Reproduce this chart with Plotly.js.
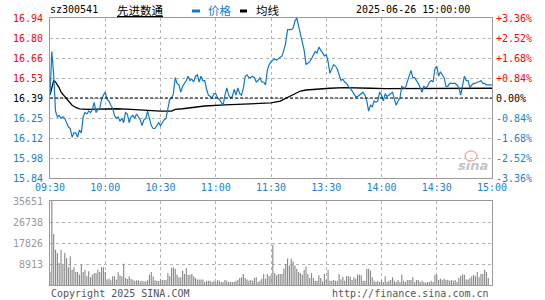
<!DOCTYPE html>
<html><head><meta charset="utf-8">
<script src="https://cdn.plot.ly/plotly-3.0.1.min.js"></script>
<style>html,body{margin:0;padding:0;background:#fff}#c{width:545px;height:300px}</style>
</head><body><div id="c"></div>
<script>
// ---------- data ----------
const stockCode = "sz300541";
const stockName = "先进数通";
const stamp = "2025-06-26 15:00:00";
const prevClose = 16.39;
const maxPct = 3.36;
const timeLabels = ["09:30","10:00","10:30","11:00","11:30","13:30","14:00","14:30","15:00"];
const priceTickLabels = ["15.84","15.98","16.12","16.25","16.39","16.53","16.66","16.80","16.94"];
const pctTickLabels = ["-3.36%","-2.52%","-1.68%","-0.84%","0.00%","+0.84%","+1.68%","+2.52%","+3.36%"];
const volTickVals = [8913,17826,26738,35651];
const volTickLabels = ["8913","17826","26738","35651"];

const prices = [
16.41,16.71,16.55,16.30,16.26,16.27,16.25,16.26,16.25,16.22,
16.19,16.18,16.12,16.15,16.15,16.12,16.17,16.15,16.26,16.29,
16.28,16.30,16.29,16.31,16.36,16.29,16.31,16.32,16.38,16.41,
16.43,16.38,16.37,16.34,16.32,16.27,16.25,16.26,16.23,16.25,
16.22,16.29,16.28,16.22,16.26,16.27,16.25,16.28,16.26,16.24,
16.20,16.24,16.25,16.30,16.25,16.20,16.18,16.18,16.20,16.22,
16.20,16.22,16.24,16.25,16.33,16.38,16.39,16.42,16.53,16.49,
16.48,16.43,16.47,16.49,16.51,16.54,16.51,16.52,16.50,16.54,
16.55,16.50,16.54,16.51,16.51,16.45,16.41,16.40,16.39,16.42,
16.42,16.39,16.38,16.36,16.34,16.41,16.46,16.41,16.39,16.40,
16.45,16.41,16.46,16.42,16.41,16.46,16.54,16.55,16.53,16.53,
16.54,16.53,16.50,16.51,16.53,16.50,16.50,16.48,16.58,16.62,
16.64,16.65,16.66,16.65,16.66,16.67,16.68,16.72,16.77,16.86,
16.86,16.86,16.87,16.92,16.94,16.89,16.82,16.77,16.72,16.62,
16.63,16.64,16.66,16.69,16.71,16.70,16.74,16.72,16.70,16.68,
16.69,16.64,16.56,16.59,16.62,16.61,16.59,16.55,16.51,16.52,
16.50,16.49,16.47,16.46,16.44,16.42,16.40,16.40,16.41,16.42,
16.43,16.41,16.37,16.30,16.34,16.33,16.37,16.36,16.37,16.43,
16.41,16.37,16.42,16.40,16.41,16.42,16.43,16.38,16.34,16.37,
16.39,16.47,16.46,16.46,16.50,16.55,16.58,16.53,16.53,16.51,
16.49,16.46,16.43,16.47,16.46,16.47,16.50,16.51,16.50,16.59,
16.61,16.54,16.57,16.55,16.53,16.47,16.47,16.49,16.49,16.49,
16.49,16.48,16.46,16.41,16.47,16.54,16.51,16.51,16.46,16.48,
16.49,16.49,16.50,16.50,16.51,16.49,16.49,16.48,16.48,16.48,
16.48];

const avgMinutes = [0,1,2,3,4,5,6,8,10,12,14,16,20,25,30,36,44,50,60,66,68,72,77,84,95,106,117,120,125,130,133,136,139,145,152,160,167,174,182,200,220,240];
const avgValues = [16.41,16.47,16.51,16.50,16.48,16.46,16.43,16.40,16.37,16.34,16.325,16.315,16.312,16.313,16.315,16.316,16.312,16.307,16.300,16.300,16.312,16.316,16.326,16.335,16.342,16.349,16.353,16.356,16.369,16.399,16.422,16.438,16.445,16.452,16.457,16.461,16.461,16.457,16.454,16.455,16.456,16.457];

const volumes = [
5500,35651,21650,15000,13600,9300,15000,8600,13600,11500,7500,12200,6500,7500,5500,5500,4400,8600,5500,6500,3700,5800,3300,4400,5100,5100,6500,5500,7500,7500,5500,
2300,2800,2000,3700,3700,2300,5400,4100,3700,9000,3000,2500,3700,2600,2200,1800,2000,2000,1600,1800,1500,1600,2000,4400,5500,3600,2000,1800,1700,2500,
2100,2100,2100,5100,3700,7200,7500,6900,4400,3300,3300,6100,4700,7200,4400,4400,4700,3700,3000,2300,2300,2300,2300,1300,1800,1800,1800,1300,1800,1300,
2100,1800,1300,1300,2100,1800,1300,1300,1300,1300,1800,2100,3000,3300,4700,3000,2300,1800,2100,1800,3000,3300,1300,1800,2700,4700,2700,4700,3700,4000,
17100,5100,4100,4700,4700,4700,6900,8900,11200,8300,11200,10000,8300,6900,5500,5100,4400,6400,7900,4700,3000,5100,3000,1800,1800,4100,3000,1600,4700,2300,
6500,1800,1800,2100,1800,1800,4700,2300,3500,1800,3800,3700,3500,2100,3300,2700,4400,4400,4100,1800,1800,6900,6900,6100,3300,1800,1300,1800,1300,2100,
1300,3700,1300,1800,2100,3300,1800,1300,2100,1300,4400,1800,1300,2100,2100,2100,3300,1300,2100,2100,1300,1800,1300,1000,1300,1300,1800,1300,4400,4400,
2100,2700,2100,2700,2100,2100,1800,2100,1800,2100,1300,3000,3800,4400,4400,2300,2300,3000,3700,4400,3700,5500,3300,4800,4700,6500,5500,3000,0,0];

// ---------- build ----------
const minutes = prices.map((_, i) => i);
const timeTickVals = timeLabels.map((_, k) => k * 30);
const RED = '#ff0000', BLUE = '#1a7fd0', LINEBLUE = '#1078c8', GRID = '#b4b4b4', BORDER = '#999999';
const step = prevClose * maxPct / 400;
const priceTickVals = priceTickLabels.map((_, k) => prevClose + (k - 4) * step);
const pctTickVals = pctTickLabels.map((_, k) => (k - 4) * maxPct / 4);
const colorFor = k => k > 4 ? RED : (k === 4 ? '#000000' : BLUE);
const priceTickText = priceTickLabels.map((t, k) => `<span style="color:${colorFor(k)}">${t}</span>`);
const pctTickText = pctTickLabels.map((t, k) => `<span style="color:${colorFor(k)}">${t}</span>`);

// pixel helpers for decorations (plot area 50..492 x, 18..285 y)
const PL = 50, PR = 492, PT = 18, PB = 285;
const px = x => (x - PL) / (PR - PL);
const py = y => (PB - y) / (PB - PT);
const priceTop = 18, priceBot = 178, volTop = 201;

const mono = 'DejaVu Sans Mono, Liberation Mono, monospace';
const cjk = 'Noto Sans CJK SC, sans-serif';

const traces = [
  {x: minutes, y: volumes, type: 'bar', xaxis: 'x2', yaxis: 'y3', width: 0.62,
   marker: {color: '#8a8a8a', line: {width: 0}}, hoverinfo: 'skip'},
  {x: avgMinutes, y: avgValues, type: 'scatter', mode: 'lines', xaxis: 'x', yaxis: 'y',
   line: {color: '#000000', width: 1.3}, hoverinfo: 'skip'},
  {x: minutes, y: prices, type: 'scatter', mode: 'lines', xaxis: 'x', yaxis: 'y',
   line: {color: LINEBLUE, width: 1.2}, hoverinfo: 'skip'},
  {x: [0, 240], y: [-maxPct, maxPct], type: 'scatter', mode: 'markers', xaxis: 'x', yaxis: 'y2',
   marker: {opacity: 0}, hoverinfo: 'skip'}
];

const axBase = {showline: true, mirror: true, linecolor: BORDER, linewidth: 1, zeroline: false,
  showgrid: true, gridcolor: GRID, griddash: 'dot', gridwidth: 1, ticks: '', fixedrange: true};

const layout = {
  width: 545, height: 300,
  margin: {l: PL, r: 545 - PR, t: PT, b: 300 - PB, pad: 0},
  paper_bgcolor: '#ffffff', plot_bgcolor: '#ffffff', showlegend: false,
  font: {family: mono, size: 10, color: '#000'},
  xaxis: Object.assign({}, axBase, {domain: [0, 1], anchor: 'y', range: [0, 240],
    tickvals: timeTickVals, ticktext: timeLabels, tickfont: {family: mono, size: 10, color: BLUE}}),
  yaxis: Object.assign({}, axBase, {domain: [py(priceBot), 1], anchor: 'x',
    range: [prevClose - 4 * step, prevClose + 4 * step], tickvals: priceTickVals, ticktext: priceTickText,
    tickfont: {family: mono, size: 10}, ticklabelstandoff: 4}),
  yaxis2: {overlaying: 'y', side: 'right', anchor: 'x', range: [-maxPct, maxPct], tickvals: pctTickVals,
    ticktext: pctTickText, showgrid: false, zeroline: false, showline: false, ticks: '',
    tickfont: {family: mono, size: 10}, ticklabelstandoff: 3, fixedrange: true},
  xaxis2: Object.assign({}, axBase, {domain: [0, 1], anchor: 'y3', range: [0, 240],
    tickvals: timeTickVals, showticklabels: false}),
  yaxis3: Object.assign({}, axBase, {domain: [0, py(volTop)], anchor: 'x2', range: [0, 35651],
    tickvals: volTickVals, ticktext: volTickLabels, tickfont: {family: mono, size: 10, color: '#999999'},
    ticklabelstandoff: 4}),
  shapes: [
    {type: 'line', xref: 'x', yref: 'y', x0: 0, x1: 240, y0: prevClose, y1: prevClose,
     line: {color: '#000', width: 1, dash: '3px,2px'}},
    {type: 'line', xref: 'paper', yref: 'paper', x0: px(192), x1: px(200), y0: py(11), y1: py(11),
     line: {color: LINEBLUE, width: 3}},
    {type: 'line', xref: 'paper', yref: 'paper', x0: px(240), x1: px(247), y0: py(11), y1: py(11),
     line: {color: '#000', width: 3}},
    {type: 'circle', xref: 'paper', yref: 'paper', x0: px(465), x1: px(477), y0: py(161), y1: py(151),
     line: {color: '#f2b0b0', width: 1.5}}
  ],
  annotations: [
    {xref: 'paper', yref: 'paper', x: px(48), y: py(10), xanchor: 'left', yanchor: 'middle', showarrow: false,
     text: stockCode, font: {family: mono, size: 10, color: '#000'}},
    {xref: 'paper', yref: 'paper', x: px(115), y: py(10), xanchor: 'left', yanchor: 'middle', showarrow: false,
     text: '<u>' + stockName + '</u>', font: {family: cjk, size: 11.5, color: '#000'}},
    {xref: 'paper', yref: 'paper', x: px(206), y: py(10), xanchor: 'left', yanchor: 'middle', showarrow: false,
     text: '价格', font: {family: cjk, size: 11.5, color: BLUE}},
    {xref: 'paper', yref: 'paper', x: px(254), y: py(10), xanchor: 'left', yanchor: 'middle', showarrow: false,
     text: '均线', font: {family: cjk, size: 11.5, color: '#000'}},
    {xref: 'paper', yref: 'paper', x: px(472), y: py(10), xanchor: 'right', yanchor: 'middle', showarrow: false,
     text: stamp, font: {family: mono, size: 10, color: '#000'}},
    {xref: 'paper', yref: 'paper', x: px(49), y: py(293), xanchor: 'left', yanchor: 'middle', showarrow: false,
     text: 'Copyright 2025 SINA.COM', font: {family: mono, size: 10, color: '#555555'}},
    {xref: 'paper', yref: 'paper', x: px(491), y: py(293), xanchor: 'right', yanchor: 'middle', showarrow: false,
     text: 'http://finance.sina.com.cn', font: {family: mono, size: 10, color: '#555555'}},
    {xref: 'paper', yref: 'paper', x: px(473), y: py(165), xanchor: 'center', yanchor: 'middle', showarrow: false,
     text: '<b><i>sina</i></b>', font: {family: 'DejaVu Sans, sans-serif', size: 13, color: '#c4c4c4'}}
  ]
};

Plotly.newPlot('c', traces, layout, {staticPlot: true, displayModeBar: false});
</script>
</body></html>
